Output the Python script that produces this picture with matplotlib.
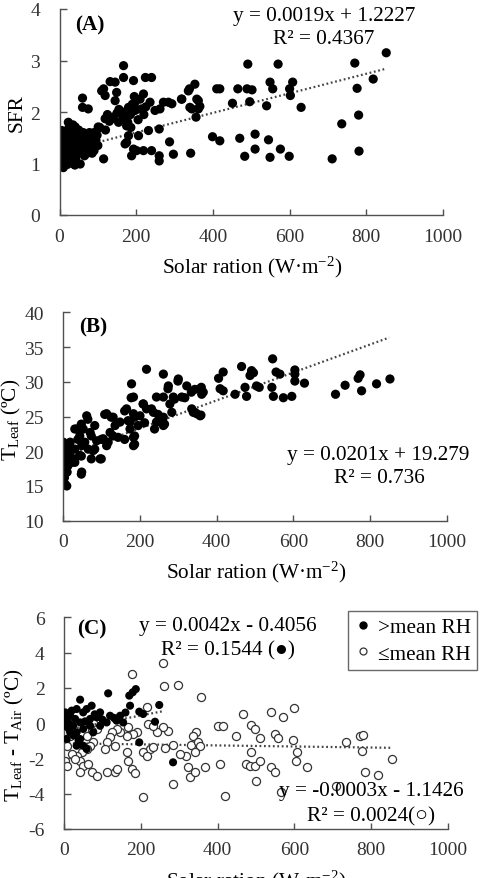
import numpy as np
import matplotlib
matplotlib.use("Agg")
import matplotlib.pyplot as plt
from matplotlib.lines import Line2D

plt.rcParams["font.family"] = ["Liberation Serif", "DejaVu Sans"]
plt.rcParams["mathtext.fontset"] = "custom"
plt.rcParams["mathtext.rm"] = "Liberation Serif"
plt.rcParams["mathtext.it"] = "Liberation Serif:italic"
plt.rcParams["axes.unicode_minus"] = False

# ---- panel A : solar radiation vs SFR ----
a_solar = [852, 770, 776, 818, 780, 736, 781, 711, 630, 608, 600, 602, 599, 576, 570,
           549, 556, 540, 545, 549, 510, 510, 491, 489, 502, 496, 483, 470, 465, 451,
           418, 410, 399, 418, 353, 358, 366, 356, 339, 340, 319, 342, 297, 287, 284,
           262, 260, 260, 260, 240, 232, 240, 224, 219, 201, 193, 193, 188, 175, 167,
           167, 145, 115, 115, 60, 60, 54,
           132, 110, 119, 149, 145, 219, 197, 180, 162, 197, 214, 236, 249, 271, 293,
           318, 336, 362, 345, 362, 75, 23, 6, 41, 101, 119, 136, 154, 175, 166, 180,
           206, 171,
           125, 140, 155, 170, 185, 190, 205, 210, 225, 178, 186, 195, 200, 130, 150,
           220, 105, 120, 90,
           0, 0, 0, 0, 0, 2, 3, 4, 5, 5, 8, 8, 10, 10, 12, 14, 15, 18, 20, 20, 22, 25,
           25, 28, 30, 30, 32, 35, 35, 38, 40, 42, 45, 45, 48, 50, 50, 55, 55, 58, 60,
           62, 65, 68, 70, 72, 75, 78, 80, 85, 88, 90, 95, 98, 100, 15, 0, 3, 25, 35,
           10, 20, 40, 30, 65, 75, 85]
a_sfr = [3.15, 2.95, 2.46, 2.64, 1.94, 1.77, 1.24, 1.09, 2.09, 2.58, 2.45, 2.32, 1.14,
         1.28, 2.93, 2.58, 2.45, 2.12, 1.46, 1.12, 1.57, 1.28, 2.93, 2.45, 2.43, 2.20,
         1.14, 1.49, 2.45, 2.17, 2.45, 2.45, 1.52, 1.44, 2.54, 2.25, 2.11, 1.90, 2.45,
         2.09, 2.25, 1.20, 1.18, 1.42, 2.19, 2.06, 1.67, 1.15, 1.05, 1.25, 1.64, 2.67,
         2.67, 1.25, 1.25, 2.61, 1.28, 1.15, 1.41, 2.90, 2.67, 2.58, 2.45, 1.09, 2.27,
         2.09, 0.99,
         2.59, 2.41, 2.32, 2.38, 2.22, 2.35, 2.19, 2.09, 1.96, 2.03, 2.06, 2.19, 2.03,
         2.19, 2.16, 2.25, 2.41, 2.22, 2.06, 2.06, 2.06, 1.80, 1.64, 1.71, 1.71, 1.87,
         1.87, 1.80, 1.73, 1.87, 1.54, 1.54, 1.38,
         1.95, 1.90, 2.05, 2.00, 1.95, 2.15, 1.85, 2.25, 2.10, 1.80, 1.70, 2.30, 2.05,
         1.82, 1.98, 1.95, 1.70, 1.65, 1.60,
         0.95, 1.05, 1.15, 1.25, 1.35, 1.00, 1.10, 1.20, 1.30, 1.40, 0.95, 1.05, 1.15,
         1.25, 1.35, 1.45, 1.00, 1.10, 1.20, 1.30, 1.50, 1.05, 1.40, 1.15, 1.25, 1.55,
         1.35, 1.00, 1.45, 1.20, 1.60, 1.10, 1.30, 1.50, 1.40, 1.20, 1.65, 1.35, 1.55,
         1.45, 1.25, 1.60, 1.50, 1.35, 1.55, 1.20, 1.45, 1.60, 1.30, 1.50, 1.40, 1.25,
         1.45, 1.55, 1.35, 1.62, 1.45, 1.55, 1.70, 1.75, 0.92, 0.98, 0.97, 1.10, 1.15,
         1.30, 1.20]

# ---- panel B : solar radiation vs leaf temperature ----
b_solar = [852, 817, 778, 774, 769, 735, 710, 629, 604, 604, 604, 596, 574, 546, 555,
           565, 544, 548, 504, 511, 491, 496, 487, 465, 478, 474, 448, 417, 405, 409,
           417, 357, 361, 359,
           217, 261, 300, 274, 322, 343, 365, 287, 309, 261, 243, 278, 283, 335, 348,
           339, 357, 261, 243, 261, 209, 217, 235, 183, 200, 165, 178, 183, 174, 183,
           183, 174, 148, 135, 122, 130, 104, 113, 113, 130, 87, 78, 96, 61, 52, 43,
           35, 70, 48, 65, 43, 30, 48, 30, 17, 22, 9,
           177, 208, 108, 125, 160, 169, 186, 195, 212, 230, 247, 264, 238, 186, 186,
           160, 143, 117, 99, 82, 73, 99, 47, 30, 47, 64, 82, 73, 56, 38, 30, 47, 21, 12,
           0, 2, 1, 3, 0, 4, 2, 0, 5, 1, 3, 0, 4, 2, 6, 8, 6, 10, 12, 15, 18,
           334, 360, 290, 317, 343, 273, 299]
b_tleaf = [30.4, 29.7, 28.7, 31.0, 30.5, 29.5, 28.2, 29.8, 31.7, 31.1, 30.1, 27.9, 27.7,
           33.3, 31.4, 31.1, 29.2, 27.9, 29.4, 29.2, 31.6, 31.3, 30.9, 32.2, 27.9, 29.2,
           28.2, 31.4, 30.5, 29.0, 28.7, 29.0, 28.2, 25.2,
           31.8, 31.1, 30.4, 29.4, 29.4, 28.9, 28.5, 27.8, 27.8, 27.8, 27.8, 26.8, 25.6,
           26.1, 25.4, 25.6, 25.1, 24.9, 24.2, 23.7, 26.8, 26.1, 25.6, 25.4, 25.1, 26.1,
           29.7, 27.8, 24.2, 22.0, 20.8, 23.2, 24.2, 23.7, 22.7, 22.2, 21.8, 20.8, 25.4,
           24.9, 21.5, 20.1, 18.9, 25.1, 23.2, 22.2, 23.2, 22.7, 20.8, 20.3, 19.4, 18.9,
           17.0, 18.4, 19.8, 18.4, 15.0,
           27.7, 26.8, 25.3, 24.9, 25.8, 24.4, 24.9, 23.7, 24.1, 26.1, 25.3, 23.9, 23.2,
           22.2, 21.0, 21.7, 22.0, 21.3, 21.7, 20.3, 18.9, 18.9, 16.7, 23.2, 23.9, 24.6,
           23.7, 22.2, 21.3, 21.7, 20.3, 19.3, 18.9, 17.9,
           21.3, 20.8, 20.2, 19.7, 19.2, 18.7, 18.2, 17.7, 17.2, 16.7, 16.2, 15.7, 15.3,
           21.0, 20.0, 19.0, 18.0, 17.0, 19.5, 20.5, 21.3,
           28.5, 29.2, 27.5, 27.7, 25.6, 29.0, 30.1]

# ---- panel C : solar radiation vs T_leaf - T_air, split by RH ----
hi_solar = [42, 115, 187, 179, 170, 248, 172, 196, 206, 237, 196, 284, 72, 59, 94, 120,
            137, 146, 154, 111, 85, 68, 50, 33, 16, 3, 7, 3, 24, 42, 33, 50, 16, 7, 42,
            50, 59, 33, 68, 76, 94, 11, 20, 29, 5, 12, 25, 38, 55, 80, 100, 130, 160]
hi_dt = [1.33, 1.69, 1.93, 1.75, 1.56, 1.03, 0.99, 0.65, 0.52, 0.08, -1.09, -2.22, 0.99,
         0.80, 0.61, 0.42, 0.14, 0.42, 0.04, 0.04, 0.33, 0.24, 0.61, 0.80, 0.42, 0.61,
         0.24, -0.15, -0.15, 0.04, -0.52, -0.33, -0.52, -0.90, -0.90, -1.28, -1.47,
         -1.28, -0.15, -0.52, -0.15, 0.04, 0.71, 0.24, 0.20, -0.30, -0.70, -1.00, 0.10,
         0.50, 0.20, 0.30, 0.60]
lo_solar = [258, 176, 260, 297, 358, 598, 571, 540, 467, 401, 414, 488, 497, 510, 449,
            549, 558, 597, 607, 604, 632, 500, 488, 475, 484, 497, 510, 540, 549, 406,
            419, 332, 345, 336, 349, 354, 341, 319, 302, 323, 328, 341, 367, 284, 283,
            206, 735, 770, 779, 775, 783, 817, 855, 709, 263, 271, 258, 241, 219, 215,
            232, 224, 206, 215, 232, 189, 180, 167, 163, 146, 137, 124, 120, 111, 107,
            133, 85, 72, 59, 76, 68, 59, 46, 33, 42, 50, 63, 42, 72, 85, 111, 133, 137,
            163, 167, 176, 185, 3, 9, 3, 9, 22, 16, 3, 29, 94, 566]
lo_dt = [3.41, 2.79, 2.12, 2.16, 1.46, 0.86, 0.33, 0.61, 0.52, -0.15, -0.15, -0.11,
         -0.33, -0.86, -0.75, -0.62, -0.86, -0.94, -1.66, -2.13, -2.47, -3.26, -1.62,
         -2.32, -2.41, -2.45, -2.13, -2.51, -2.75, -2.32, -4.15, -1.24, -0.52, -0.71,
         -1.09, -1.28, -1.66, -1.85, -1.75, -2.51, -3.07, -2.75, -2.51, -1.24, -3.45,
         -4.21, -1.09, -0.75, -0.67, -1.56, -2.79, -2.94, -2.03, -3.58, -1.43, -0.43,
         -0.24, -0.52, -0.05, 0.90, -0.15, -1.47, -1.66, -1.85, -1.37, -0.52, -0.62,
         -0.24, -0.71, -0.52, -0.33, -0.52, -0.81, -1.09, -1.47, -1.28, -0.33, -0.43,
         -0.71, -1.09, -1.28, -1.47, -1.66, -1.85, -2.13, -2.41, -2.32, -2.79, -2.79,
         -2.98, -2.79, -2.75, -2.60, -1.66, -2.13, -2.60, -2.85, -1.00, -1.28, -2.13,
         -2.41, -1.75, -0.71, -0.43, -2.04, 0.24, -3.93]

# regression lines (slope, intercept, x range)
fit_a = (0.0019, 1.2227, [0, 850])
fit_b = (0.0201, 19.279, [0, 850])
fit_hi = (0.0042, -0.4056, [0, 260])
fit_lo = (-0.0003, -1.1426, [0, 850])

W, H = 482, 879
GREY = "#505050"
FS = 14      # tick labels
FT = 15.3    # annotations, axis labels


def px(x, y):
    return x / W, 1 - y / H


def style(ax, ylim, yticks):
    ax.set_xlim(0, 1000)
    ax.set_ylim(*ylim)
    ax.set_xticks([0, 200, 400, 600, 800, 1000])
    ax.set_yticks(yticks)
    for s in ["top", "right"]:
        ax.spines[s].set_visible(False)
    for s in ["left", "bottom"]:
        ax.spines[s].set_color(GREY)
        ax.spines[s].set_linewidth(1.0)
    ax.tick_params(axis="x", direction="in", length=4, width=1, color=GREY,
                   labelsize=FS, labelcolor="#333333", pad=9)
    ax.tick_params(axis="y", direction="in", length=5, width=1, color=GREY,
                   labelsize=FS, labelcolor="#333333", pad=14)


def trend(ax, fit):
    k, b, xr = fit
    xs = np.array(xr, dtype=float)
    ax.plot(xs, k * xs + b, color="#444444", lw=1.6, ls=(0, (0.8, 1.2)), zorder=1)


fig = plt.figure(figsize=(W / 100, H / 100), dpi=100)

# (A)
ax1 = fig.add_axes([59.5 / W, 1 - 216 / H, 383.5 / W, 206 / H])
ax1.scatter(a_solar, a_sfr, s=44, color="black", edgecolors="none", zorder=2)
trend(ax1, fit_a)
style(ax1, (0, 4), [0, 1, 2, 3, 4])
fig.text(*px(90, 25), "(A)", fontsize=FT, fontweight="bold", ha="center", va="center")
fig.text(*px(324, 16), "y = 0.0019x + 1.2227", fontsize=FT, ha="center", va="center")
fig.text(*px(324, 39), "R² = 0.4367", fontsize=FT, ha="center", va="center")
fig.text(*px(17, 113), "SFR", fontsize=FT, rotation=90, ha="center", va="center")
fig.text(*px(252, 267), r"Solar ration (W·m$^{-2}$)", fontsize=FT, ha="center", va="center")

# (B)
ax2 = fig.add_axes([63.3 / W, 1 - 521.7 / H, 383.4 / W, 208.4 / H])
ax2.scatter(b_solar, b_tleaf, s=44, color="black", edgecolors="none", zorder=2)
trend(ax2, fit_b)
style(ax2, (10, 40), [10, 15, 20, 25, 30, 35, 40])
fig.text(*px(93, 327), "(B)", fontsize=FT, fontweight="bold", ha="center", va="center")
fig.text(*px(378, 456), "y = 0.0201x + 19.279", fontsize=FT, ha="center", va="center")
fig.text(*px(379, 479), "R² = 0.736", fontsize=FT, ha="center", va="center")
fig.text(*px(11, 420), r"T$_{\rm Leaf}$ (ºC)", fontsize=FT, rotation=90, ha="center", va="center")
fig.text(*px(256, 572), r"Solar ration (W·m$^{-2}$)", fontsize=FT, ha="center", va="center")

# (C)
ax3 = fig.add_axes([64 / W, 1 - 830 / H, 384 / W, 211.7 / H])
ax3.scatter(lo_solar, lo_dt, s=34, facecolors="white", edgecolors="#333333",
            linewidths=0.9, zorder=2)
ax3.scatter(hi_solar, hi_dt, s=34, color="black", edgecolors="none", zorder=3)
trend(ax3, fit_lo)
trend(ax3, fit_hi)
style(ax3, (-6, 6), [-6, -4, -2, 0, 2, 4, 6])
fig.text(*px(92, 629), "(C)", fontsize=FT, fontweight="bold", ha="center", va="center")
fig.text(*px(228, 627), "y = 0.0042x - 0.4056", fontsize=FT, ha="center", va="center")
fig.text(*px(228, 651), "R² = 0.1544 (●)", fontsize=FT, ha="center", va="center")
fig.text(*px(371, 792), "y = -0.0003x - 1.1426", fontsize=FT, ha="center", va="center")
fig.text(*px(371, 817), "R² = 0.0024(○)", fontsize=FT, ha="center", va="center")
fig.text(*px(14, 735), r"T$_{\rm Leaf}$ - T$_{\rm Air}$ (ºC)", fontsize=FT, rotation=90,
         ha="center", va="center")
# in the source image this label sits on the lower edge and is partly cut off
fig.text(*px(256, 881), r"Solar ration (W·m$^{-2}$)", fontsize=FT, ha="center", va="center")

handles = [
    Line2D([], [], ls="none", marker="o", ms=5, mfc="black", mec="black"),
    Line2D([], [], ls="none", marker="o", ms=5, mfc="white", mec="#333333", mew=0.9),
]
leg = ax3.legend(handles, [">mean RH", "≤mean RH"], loc="upper right",
                 bbox_to_anchor=px(477, 612), bbox_transform=fig.transFigure,
                 borderaxespad=0, fontsize=FT, frameon=True, fancybox=False,
                 handlelength=0.8, handletextpad=0.3, borderpad=0.3, labelspacing=0.3)
leg.get_frame().set_edgecolor("#444444")
leg.get_frame().set_linewidth(1.0)

fig.savefig("out.png", dpi=100)
